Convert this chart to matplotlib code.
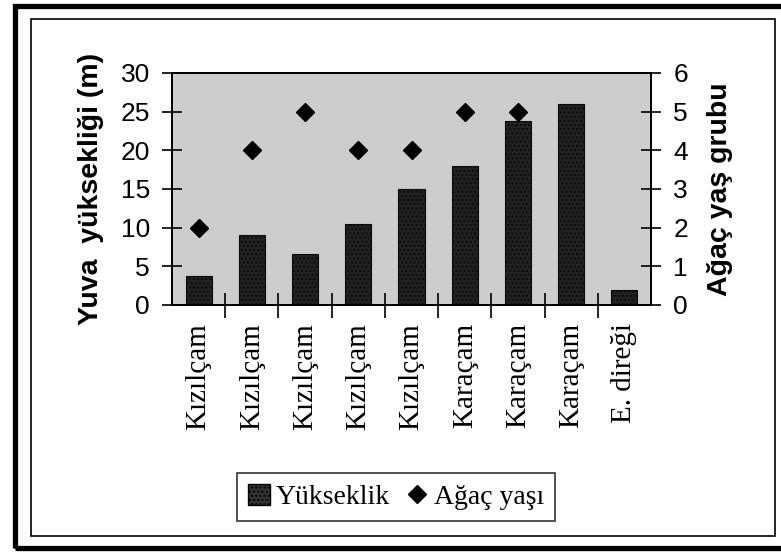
import matplotlib
matplotlib.use("Agg")
import matplotlib.pyplot as plt
from matplotlib.patches import Rectangle
from matplotlib.lines import Line2D
import numpy as np

categories = ["Kızılçam", "Kızılçam", "Kızılçam", "Kızılçam", "Kızılçam",
              "Karaçam", "Karaçam", "Karaçam", "E. direği"]
heights = [3.7, 9.0, 6.6, 10.5, 15.0, 18.0, 23.8, 26.0, 2.0]
age_groups = [2, 4, 5, 4, 4, 5, 5, None, None]
left_ticks = [0, 5, 10, 15, 20, 25, 30]
right_ticks = [0, 1, 2, 3, 4, 5, 6]

W, H = 781, 553
fig = plt.figure(figsize=(W / 100, H / 100), dpi=100)
fig.patch.set_facecolor("white")

# frames
fig.patches.append(Rectangle((15 / W, 1 - 548 / H), 775 / W, 542 / H,
                             transform=fig.transFigure, fill=False,
                             edgecolor="black", linewidth=3.8))
fig.patches.append(Rectangle((31 / W, 1 - 536 / H), 744 / W, 517 / H,
                             transform=fig.transFigure, fill=False,
                             edgecolor="black", linewidth=1.2))

ax = fig.add_axes([172 / W, 1 - 305 / H, (651 - 172) / W, (305 - 73) / H])
ax.set_facecolor("#cdcdcd")
x = np.arange(len(categories))
ax.bar(x, heights, width=0.49, color="#222222", edgecolor="#0a0a0a",
       linewidth=0.8, zorder=2, hatch="....")
ax.set_xlim(-0.5, len(categories) - 0.5)
ax.set_ylim(0, 30)
ax.set_yticks(left_ticks)
ax.set_yticklabels([str(t) for t in left_ticks], family="Liberation Sans",
                   fontsize=19)
ax.tick_params(axis="y", direction="inout", length=14, width=1.2, pad=9)
ax.set_xticks(x)
ax.set_xticklabels(categories, rotation=90, family="Liberation Serif",
                   fontsize=21, va="top")
ax.tick_params(axis="x", which="major", length=0, pad=13)
ax.set_xticks(np.arange(len(categories) - 1) + 0.5, minor=True)
ax.tick_params(axis="x", which="minor", direction="inout", length=18, width=1.2)
for s in ax.spines.values():
    s.set_linewidth(1.4)
    s.set_color("black")
ax.set_ylabel("Yuva  yüksekliği (m)", family="Liberation Sans",
              fontweight="bold", fontsize=20.5, labelpad=12)

ax2 = ax.twinx()
ax2.set_ylim(0, 6)
ax2.set_yticks(right_ticks)
ax2.set_yticklabels([str(t) for t in right_ticks], family="Liberation Sans",
                    fontsize=19)
ax2.tick_params(axis="y", direction="inout", length=14, width=1.2, pad=9)
xs = [i for i, v in enumerate(age_groups) if v is not None]
ys = [v for v in age_groups if v is not None]
ax2.plot(xs, ys, linestyle="none", marker="D", markersize=9.5,
         color="black", zorder=3)
ax2.set_ylabel("Ağaç yaş grubu", family="Liberation Sans",
               fontweight="bold", fontsize=20.5, labelpad=14)
for s in ax2.spines.values():
    s.set_linewidth(1.4)

handles = [Rectangle((0, 0), 1, 1, facecolor="#333333", edgecolor="black",
                     hatch="...."),
           Line2D([], [], linestyle="none", marker="D", markersize=9,
                  color="black")]
leg = fig.legend(handles, ["Yükseklik", "Ağaç yaşı"], loc="center",
                 bbox_to_anchor=(396 / W, 1 - 497 / H), ncol=2,
                 prop={"family": "Liberation Serif", "size": 20},
                 frameon=True, fancybox=False, handlelength=0.8,
                 handleheight=0.8, handletextpad=0.2, columnspacing=0.6,
                 borderpad=0.4)
leg.get_frame().set_edgecolor("black")
leg.get_frame().set_linewidth(1.2)

fig.savefig("out.png", dpi=100)
